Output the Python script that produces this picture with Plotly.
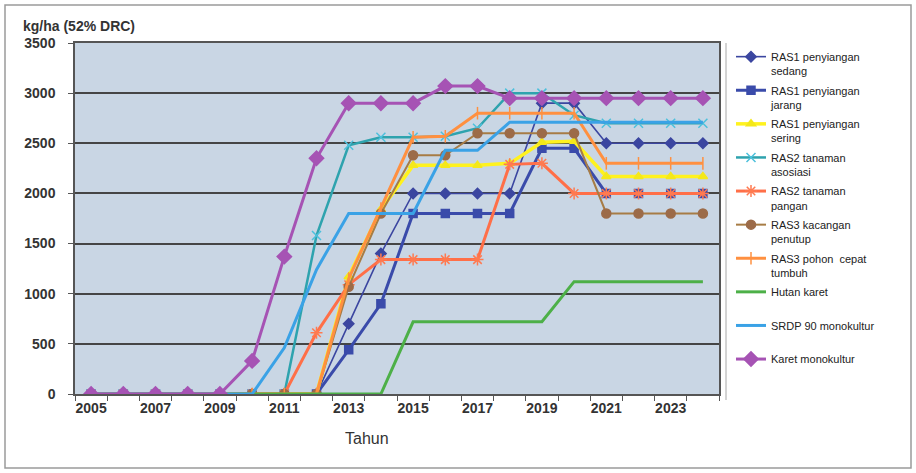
import plotly.graph_objects as go

# Years on the horizontal axis
years = list(range(2005, 2025))
year_labels = list(range(2005, 2025, 2))

# Rubber yield per system, kg/ha (52% DRC)
ras1_sedang = [0, 0, 0, 0, 0, 0, 0, 0, 700, 1400, 2000, 2000, 2000, 2000, 2900, 2900, 2500, 2500, 2500, 2500]
ras1_jarang = [0, 0, 0, 0, 0, 0, 0, 0, 440, 900, 1800, 1800, 1800, 1800, 2450, 2450, 2000, 2000, 2000, 2000]
ras1_sering = [0, 0, 0, 0, 0, 0, 0, 0, 1170, 1840, 2280, 2280, 2280, 2300, 2510, 2520, 2170, 2170, 2170, 2170]
ras2_asosiasi = [0, 0, 0, 0, 0, 0, 0, 1580, 2480, 2560, 2560, 2570, 2650, 3000, 3000, 2780, 2700, 2700, 2700, 2700]
ras2_pangan = [0, 0, 0, 0, 0, 0, 0, 610, 1090, 1340, 1340, 1340, 1340, 2290, 2300, 2000, 2000, 2000, 2000, 2000]
ras3_kacangan = [0, 0, 0, 0, 0, 0, 0, 0, 1070, 1800, 2380, 2380, 2600, 2600, 2600, 2600, 1800, 1800, 1800, 1800]
ras3_pohon = [0, 0, 0, 0, 0, 0, 0, 0, 1150, 1850, 2560, 2570, 2800, 2800, 2800, 2800, 2300, 2300, 2300, 2300]
hutan_karet = [0, 0, 0, 0, 0, 0, 0, 0, 0, 0, 720, 720, 720, 720, 720, 1120, 1120, 1120, 1120, 1120]
srdp_90 = [0, 0, 0, 0, 0, 0, 460, 1240, 1800, 1800, 1800, 2430, 2430, 2710, 2710, 2710, 2710, 2710, 2710, 2710]
karet_mono = [0, 0, 0, 0, 0, 330, 1370, 2350, 2900, 2900, 2900, 3070, 3070, 2950, 2950, 2950, 2950, 2950, 2950, 2950]

FONT = "Liberation Sans, Arial, sans-serif"

series = [
    ("RAS1 penyiangan<br>sedang", ras1_sedang, "#3B46A0", 1.6, "diamond", 8, "#3B46A0"),
    ("RAS1 penyiangan<br>jarang", ras1_jarang, "#3A4BAA", 3, "square", 8, "#3A4BAA"),
    ("RAS1 penyiangan<br>sering", ras1_sering, "#FFF21E", 3.5, "triangle-up", 8, "#F4E81A"),
    ("RAS2 tanaman<br>asosiasi", ras2_asosiasi, "#2EA3AE", 2.5, "x-thin-open", 9, "#4CC0DC"),
    ("RAS2 tanaman<br>pangan", ras2_pangan, "#FF6F48", 3, "asterisk-open", 10, "#FF7A50"),
    ("RAS3 kacangan<br>penutup", ras3_kacangan, "#A77C45", 2, "circle", 9, "#9C6B48"),
    ("RAS3 pohon  cepat<br>tumbuh", ras3_pohon, "#FF9040", 3, "line-ns-open", 9, "#FF9040"),
    ("Hutan karet<br> ", hutan_karet, "#4DB048", 3, None, 0, None),
    ("SRDP 90 monokultur<br> ", srdp_90, "#3AA2E6", 3, None, 0, None),
    ("Karet monokultur<br> ", karet_mono, "#A653B4", 3, "diamond", 11, "#A653B4"),
]

fig = go.Figure()
for i, (name, vals, color, width, symbol, msize, mcolor) in enumerate(series):
    if symbol is None:
        fig.add_trace(go.Scatter(
            x=years, y=vals, name=name, mode="lines", legendgroup=f"g{i}",
            line=dict(color=color, width=width)))
    else:
        fig.add_trace(go.Scatter(
            x=years, y=vals, name=name, mode="lines+markers", legendgroup=f"g{i}",
            line=dict(color=color, width=width),
            marker=dict(symbol=symbol, size=msize, color=mcolor,
                        line=dict(color=mcolor, width=1.5))))

L, R, T, B = 75, 197, 43, 79
W, H = 916, 473
pw, ph = W - L - R, H - T - B


def px_x(px):
    return (px - L) / pw


def px_y(py):
    return (H - B - py) / ph


fig.update_layout(
    width=W, height=H,
    margin=dict(l=L, r=R, t=T, b=B),
    paper_bgcolor="#FFFFFF",
    plot_bgcolor="#C9D6E4",
    font=dict(family=FONT, color="#2b2b2b"),
    showlegend=True,
    legend=dict(
        x=px_x(731), xanchor="left", y=1.0, yanchor="top",
        font=dict(family=FONT, size=11, color="#222222"),
        valign="top", tracegroupgap=2, bgcolor="rgba(0,0,0,0)",
        itemwidth=30,
    ),
    xaxis=dict(
        range=[2004.5, 2024.5],
        tickmode="array", tickvals=year_labels,
        ticks="", showgrid=False,
        tickfont=dict(family=FONT, size=14, color="#333333", weight="bold"),
        showline=True, linecolor="#555555", linewidth=1.5, mirror=True,
        zeroline=False,
        minor=dict(tickmode="array", tickvals=[y - 0.5 for y in years] + [2024.5],
                   ticks="outside", ticklen=5, tickcolor="#555555", showgrid=False),
    ),
    yaxis=dict(
        range=[0, 3500], dtick=500,
        ticks="outside", ticklen=5, tickcolor="#555555",
        tickfont=dict(family=FONT, size=14, color="#333333", weight="bold"),
        ticklabelstandoff=10,
        showgrid=True, gridcolor="#454545", gridwidth=1.5,
        showline=True, linecolor="#555555", linewidth=1.5, mirror=True,
        zeroline=False,
    ),
    annotations=[
        dict(text="<b>kg/ha (52% DRC)</b>", xref="paper", yref="paper",
             x=px_x(21), y=px_y(26), xanchor="left", yanchor="middle",
             showarrow=False, font=dict(family=FONT, size=14, color="#333333")),
        dict(text="Tahun", xref="paper", yref="paper",
             x=px_x(367), y=px_y(438), xanchor="center", yanchor="middle",
             showarrow=False, font=dict(family=FONT, size=16, color="#333333")),
    ],
    shapes=[
        dict(type="rect", xref="paper", yref="paper",
             x0=px_x(5), x1=px_x(911), y0=px_y(468), y1=px_y(5),
             line=dict(color="#9a9a9a", width=1.5), layer="below"),
        dict(type="line", xref="paper", yref="paper",
             x0=px_x(726), x1=px_x(726), y0=px_y(400), y1=px_y(43),
             line=dict(color="#a8a8a8", width=1)),
    ],
)

fig.write_html("out.html")
